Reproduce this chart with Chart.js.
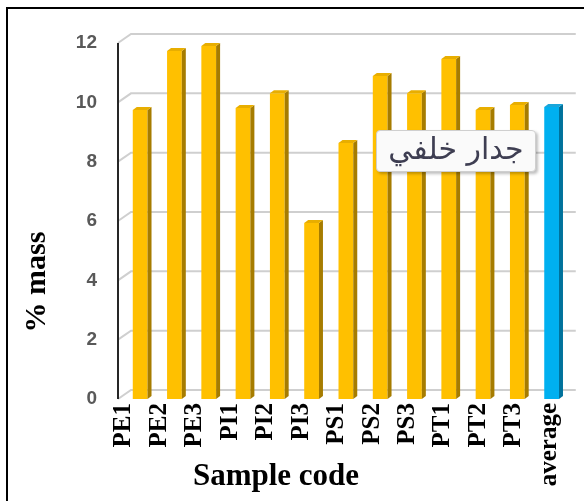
<!DOCTYPE html>
<html><head><meta charset="utf-8">
<script src="https://cdn.jsdelivr.net/npm/chart.js@4.4.1/dist/chart.umd.min.js"></script>
<style>
html,body{margin:0;padding:0;background:#fff;}
#wrap{position:relative;width:584px;height:501px;overflow:hidden;}
canvas{position:absolute;left:0;top:0;}
#note{position:absolute;left:376px;top:130px;width:160px;height:42px;box-sizing:border-box;background:#fafafa;border:1px solid #cfcfcf;border-radius:4px;box-shadow:2px 2px 3px rgba(0,0,0,0.25);font-family:"DejaVu Sans";font-size:30px;color:#3e3e52;direction:rtl;text-align:center;line-height:36px;}
</style></head>
<body><div id="wrap"><canvas id="c" width="584" height="501"></canvas><div id="note">جدار خلفي</div></div>
<script>
const categories = ['PE1','PE2','PE3','PI1','PI2','PI3','PS1','PS2','PS3','PT1','PT2','PT3','average'];
const values = [9.74, 11.73, 11.9, 9.81, 10.31, 5.93, 8.63, 10.89, 10.31, 11.46, 9.74, 9.91, 9.84];
const yTicks = [0, 2, 4, 6, 8, 10, 12];
const yTitle = '% mass';
const xTitle = 'Sample code';

const isAvg = i => categories[i] === 'average';
const front = categories.map((c, i) => isAvg(i) ? '#00B0F0' : '#FFC000');
const side = categories.map((c, i) => isAvg(i) ? '#00729C' : '#A67C00');
const topc = categories.map((c, i) => isAvg(i) ? '#1AA6DA' : '#E8AE00');

const W = {dx: 13, dy: -9};
const threeD = {
  id: 'threeD',
  beforeDraw(chart) {
    const ctx = chart.ctx;
    ctx.save();
    ctx.fillStyle = '#fff';
    ctx.fillRect(0, 0, chart.width, chart.height);
    ctx.fillStyle = '#000';
    ctx.fillRect(6, 7, chart.width - 6, 2);
    ctx.fillRect(6, 7, 2, chart.height - 7);
    ctx.restore();
  },
  beforeDatasetsDraw(chart) {
    const {ctx, chartArea: a, scales: {y}} = chart;
    const ax = a.left - 5;
    ctx.save();
    ctx.strokeStyle = '#cfcfcf';
    ctx.lineWidth = 2;
    yTicks.forEach(v => {
      const py = y.getPixelForValue(v);
      ctx.beginPath();
      ctx.moveTo(ax, py);
      ctx.lineTo(ax + W.dx, py + W.dy);
      ctx.lineTo(a.right + 7, py + W.dy);
      ctx.stroke();
    });
    ctx.strokeStyle = '#262626';
    ctx.lineWidth = 2;
    ctx.beginPath();
    ctx.moveTo(ax, y.getPixelForValue(yTicks[yTicks.length - 1]));
    ctx.lineTo(ax, y.getPixelForValue(0));
    ctx.stroke();
    ctx.restore();
  },
  afterDatasetsDraw(chart) {
    const ctx = chart.ctx;
    const meta = chart.getDatasetMeta(0);
    ctx.save();
    meta.data.forEach((el, i) => {
      const p = el.getProps(['x', 'y', 'base', 'width'], true);
      const l = p.x - p.width / 2, r = p.x + p.width / 2, ex = 4, ey = -3;
      ctx.fillStyle = side[i];
      ctx.beginPath();
      ctx.moveTo(r, p.y); ctx.lineTo(r + ex, p.y + ey); ctx.lineTo(r + ex, p.base + ey); ctx.lineTo(r, p.base);
      ctx.closePath(); ctx.fill();
      ctx.fillStyle = topc[i];
      ctx.beginPath();
      ctx.moveTo(l, p.y); ctx.lineTo(l + ex, p.y + ey); ctx.lineTo(r + ex, p.y + ey); ctx.lineTo(r, p.y);
      ctx.closePath(); ctx.fill();
    });
    ctx.restore();
  },
  afterDraw(chart) {
    const ctx = chart.ctx;
    ctx.save();
    ctx.fillStyle = '#000';
    ctx.textAlign = 'center';
    ctx.textBaseline = 'middle';
    ctx.font = 'bold 31px "Liberation Serif"';
    ctx.fillText(xTitle, 276, 477);
    ctx.translate(37, 282);
    ctx.rotate(-Math.PI / 2);
    ctx.font = 'bold 30px "Liberation Serif"';
    ctx.fillText(yTitle, 0, 0);
    ctx.restore();
  }
};

new Chart(document.getElementById('c'), {
  type: 'bar',
  data: {
    labels: categories,
    datasets: [{
      data: values,
      backgroundColor: front,
      borderWidth: 0,
      categoryPercentage: 1,
      barPercentage: 0.43
    }]
  },
  options: {
    responsive: false,
    animation: false,
    layout: {padding: {top: 43, right: 13, left: 0, bottom: 0}},
    plugins: {legend: {display: false}, tooltip: {enabled: false}, title: {display: false}},
    scales: {
      x: {
        display: false,
        grid: {display: false}
      },
      xl: {
        type: 'linear',
        position: 'bottom',
        offset: false,
        bounds: 'data',
        min: -0.028, max: 12.548,
        grid: {display: false, drawTicks: false, offset: false},
        border: {display: false},
        afterBuildTicks(s) { s.ticks = categories.map((c, i) => ({value: i})); },
        ticks: {
          autoSkip: false, minRotation: 90, maxRotation: 90, padding: 4,
          callback: v => categories[v],
          color: '#000', font: {family: '"Liberation Serif"', weight: 'bold', size: 25}
        },
        afterFit(s) { s.height = 102; }
      },
      y: {
        min: 0, max: 12,
        grid: {display: false, drawTicks: false},
        border: {display: false},
        ticks: {
          stepSize: 2, padding: 26, color: '#595959',
          font: {family: '"Liberation Sans"', weight: 'bold', size: 19}
        },
        afterFit(s) { s.width = 123; }
      }
    }
  },
  plugins: [threeD]
});
</script>
</body></html>
